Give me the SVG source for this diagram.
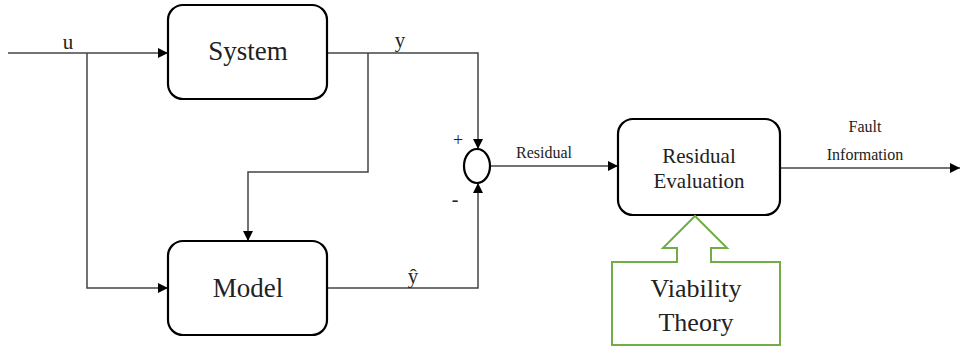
<svg xmlns="http://www.w3.org/2000/svg" width="960" height="352" viewBox="0 0 960 352">
<defs>
<marker id="ah" viewBox="0 0 10 10" refX="10" refY="5" markerWidth="10" markerHeight="10" markerUnits="userSpaceOnUse" orient="auto">
<path d="M0,0 L10,5 L0,10 z" fill="#000"/>
</marker>
<style>
.box{fill:#fff;stroke:#000;stroke-width:2.2}
.ln{fill:none;stroke:#444;stroke-width:1.5}
text{font-family:'Liberation Serif','DejaVu Serif',serif;fill:#222;text-anchor:middle}
</style>
</defs>
<rect width="960" height="352" fill="#fff"/>
<g id="connectors" font-family="Liberation Serif, serif">
<path class="ln" d="M8,53 H168" marker-end="url(#ah)"/>
<path class="ln" d="M87,53 V288 H168" marker-end="url(#ah)"/>
<path class="ln" d="M327,53 H478 V149" marker-end="url(#ah)"/>
<path class="ln" d="M368,53 V172 H248 V241" marker-end="url(#ah)"/>
<path class="ln" d="M327,288 H478 V183" marker-end="url(#ah)"/>
<path class="ln" d="M490,166 H618" marker-end="url(#ah)"/>
<path class="ln" d="M780,168 H960" marker-end="url(#ah)"/>
<text x="68" y="49" font-size="21">u</text>
<text x="400" y="47" font-size="21">y</text>
<text x="413" y="283" font-size="21">ŷ</text>
<text x="458" y="146" font-size="18">+</text>
<text x="455" y="206" font-size="20">-</text>
<text x="544" y="158" font-size="16">Residual</text>
<text x="865" y="132" font-size="16">Fault</text>
<text x="865" y="160" font-size="16">Information</text>
</g>
<g id="system" font-family="Liberation Serif, serif">
<rect class="box" x="168" y="5" width="159" height="94" rx="15"/>
<text x="248" y="60" font-size="27">System</text>
</g>
<g id="model" font-family="Liberation Serif, serif">
<rect class="box" x="168" y="241" width="159" height="94" rx="15"/>
<text x="248" y="297" font-size="27">Model</text>
</g>
<g id="sum">
<ellipse cx="477" cy="166" rx="13" ry="17" fill="#fff" stroke="#000" stroke-width="2.2"/>
</g>
<g id="residual-evaluation" font-family="Liberation Serif, serif">
<rect class="box" x="618" y="119" width="162" height="96" rx="15"/>
<text x="699" y="163" font-size="21">Residual</text>
<text x="699" y="188" font-size="21">Evaluation</text>
</g>
<g id="viability-theory" font-family="Liberation Serif, serif">
<path d="M612,262 H677 V248 H663 L695,216 L727,248 H711 V262 H780 V345 H612 Z" fill="#fff" stroke="#70ad47" stroke-width="2"/>
<text x="696" y="297" font-size="26">Viability</text>
<text x="696" y="331" font-size="26">Theory</text>
</g>
</svg>
